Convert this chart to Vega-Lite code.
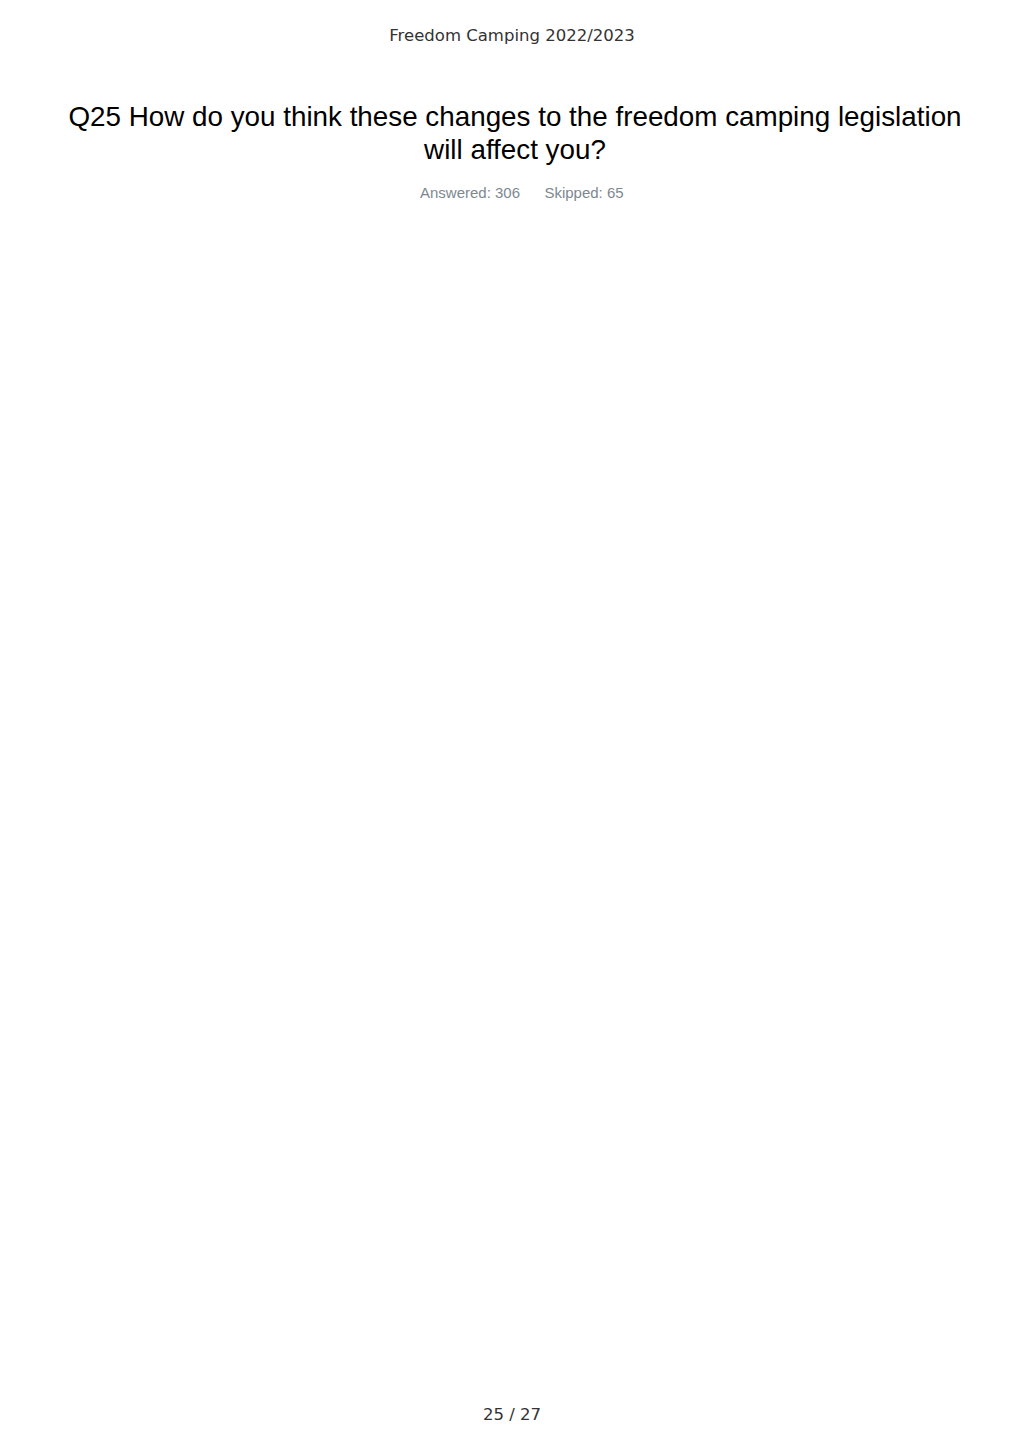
{
  "$schema": "https://vega.github.io/schema/vega-lite/v6.json",
  "background": "white",
  "padding": {"top": 27, "left": 0, "right": 0, "bottom": 0},
  "title": {
    "text": "Freedom Camping 2022/2023",
    "anchor": "middle",
    "font": "DejaVu Sans",
    "fontSize": 16.5,
    "fontWeight": "normal",
    "color": "#333333",
    "offset": 60
  },
  "vconcat": [
    {
      "width": 1024,
      "height": 1237,
      "title": {
        "text": ["Q25 How do you think these changes to the freedom camping legislation", "will affect you?"],
        "anchor": "middle",
        "dx": 3,
        "font": "Liberation Sans",
        "fontSize": 27.8,
        "fontWeight": "normal",
        "color": "#000000",
        "lineHeight": 33,
        "offset": 21
      },
      "layer": [
        {
          "data": {"values": [
            {"item": "Answered", "label": "Answered: 306"},
            {"item": "Skipped", "label": "Skipped: 65"}
          ]},
          "mark": {"type": "text", "baseline": "top", "y": 0, "font": "Liberation Sans", "fontSize": 15, "color": "#7d8891"},
          "encoding": {
            "x": {"field": "item", "type": "nominal", "axis": null, "scale": {"range": [470, 584], "padding": 0}},
            "text": {"field": "label"}
          }
        },
        {
          "data": {"values": [{"page": "25 / 27"}]},
          "mark": {"type": "text", "baseline": "bottom", "y": "height", "x": {"expr": "width / 2"}, "font": "DejaVu Sans", "fontSize": 16.5, "color": "#333333"},
          "encoding": {"text": {"field": "page"}}
        }
      ]
    }
  ],
  "config": {"view": {"stroke": null}}
}
